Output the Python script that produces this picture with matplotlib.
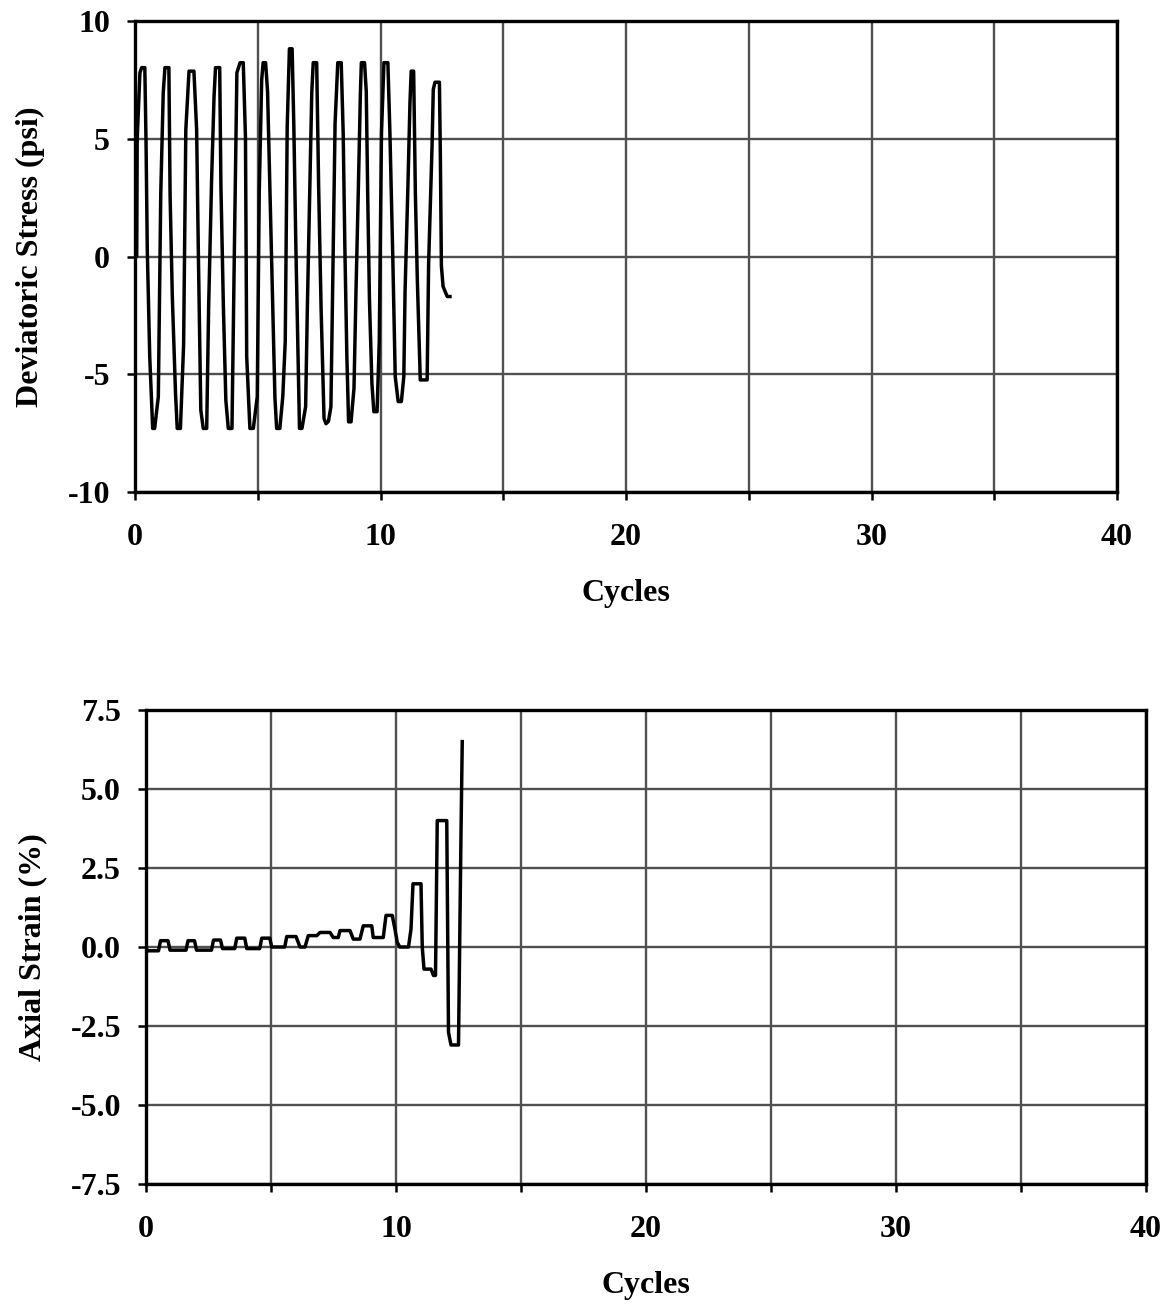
import matplotlib
matplotlib.use("Agg")
import matplotlib.pyplot as plt

# ---------------- data ----------------
stress_t = [0.0, 0.07, 0.09, 0.2, 0.27, 0.4, 0.45, 0.5, 0.6, 0.72, 0.8,
            0.95, 1.05, 1.15, 1.22, 1.38, 1.43, 1.52, 1.65, 1.72, 1.85,
            1.98, 2.07, 2.2, 2.4, 2.51, 2.58, 2.68, 2.78, 2.92,
            3.0, 3.12, 3.22, 3.28, 3.45, 3.5, 3.6, 3.7, 3.8, 3.95,
            4.05, 4.15, 4.28, 4.41, 4.5, 4.55, 4.68, 4.82,
            4.98, 5.06, 5.16, 5.22, 5.32, 5.4, 5.5, 5.6, 5.7, 5.77, 5.9,
            6.02, 6.12, 6.2, 6.29, 6.4, 6.47, 6.55, 6.7, 6.8,
            6.95, 7.02, 7.13, 7.2, 7.26, 7.4, 7.48, 7.58, 7.7, 7.78, 7.88,
            7.98, 8.08, 8.15, 8.26, 8.4, 8.48, 8.55, 8.63, 8.7, 8.8,
            8.92, 9.0, 9.1, 9.18, 9.22, 9.35, 9.42, 9.48, 9.55, 9.65, 9.73, 9.86,
            9.95, 10.04, 10.14, 10.3, 10.38, 10.5, 10.6, 10.72, 10.85,
            10.95, 11.0, 11.12, 11.2, 11.25, 11.35, 11.42, 11.5, 11.62, 11.9,
            11.96, 12.1, 12.15, 12.22, 12.4, 12.44, 12.48, 12.55, 12.72, 12.83]
stress_v = [0.0, 0.0, 5.0, 7.8, 8.02, 8.02, 4.8, 0.3, -4.25, -7.3, -7.3,
            -5.95, 2.7, 6.95, 8.02, 8.02, 2.56, -1.7, -5.8, -7.3, -7.3,
            -3.75, 5.39, 7.87, 7.87, 5.39, 0.2, -6.52, -7.3, -7.3,
            -2.12, 3.26, 6.8, 8.02, 8.02, 2.98, -2.12, -6.1, -7.3, -7.3,
            0.43, 7.8, 8.23, 8.23, 5.04, -4.25, -7.3, -7.3,
            -5.95, 2.7, 7.5, 8.23, 8.23, 7.0, 2.7, -1.7, -6.0, -7.3, -7.3,
            -5.95, -3.6, 5.53, 8.82, 8.82, 5.53, 0.57, -7.3, -7.3,
            -6.38, -2.2, 3.41, 6.95, 8.23, 8.23, 2.98, -2.2, -6.88, -7.1, -7.0,
            -6.38, 0.57, 5.67, 8.23, 8.23, 5.25, 0.28, -4.25, -7.02, -7.02,
            -5.6, -1.56, 2.98, 6.9, 8.23, 8.23, 7.0, 2.56, -1.84, -5.39, -6.59, -6.59,
            -3.6, 5.25, 8.23, 8.23, 5.39, 0.0, -5.1, -6.16, -6.16,
            -5.1, -1.5, 3.12, 6.52, 7.87, 7.87, 2.7, -0.99, -5.24, -5.24,
            -0.3, 4.7, 7.1, 7.4, 7.4, 4.1, -0.4, -1.28, -1.7, -1.7]

strain_t = [0.0, 0.05, 0.5, 0.58, 0.88, 0.96, 1.6, 1.68, 1.94, 2.02, 2.62, 2.7,
            2.98, 3.06, 3.55, 3.63, 3.95, 4.03, 4.55, 4.63, 4.95, 5.03, 5.55,
            5.63, 6.0, 6.16, 6.36, 6.49, 6.83, 6.96, 7.36, 7.49, 7.69, 7.76,
            8.16, 8.29, 8.56, 8.69, 9.03, 9.09, 9.49, 9.6, 9.85, 9.95, 10.05,
            10.15, 10.5, 10.6, 10.68, 11.0, 11.05, 11.12, 11.4, 11.5, 11.58,
            11.65, 12.03, 12.1, 12.2, 12.5, 12.6, 12.65]
strain_v = [0.0, -0.12, -0.12, 0.2, 0.2, -0.1, -0.1, 0.2, 0.2, -0.1, -0.1, 0.22,
            0.22, -0.05, -0.05, 0.28, 0.28, -0.05, -0.05, 0.28, 0.28, 0.0, 0.0,
            0.33, 0.33, 0.0, 0.0, 0.36, 0.36, 0.46, 0.46, 0.3, 0.3, 0.52,
            0.52, 0.25, 0.25, 0.67, 0.67, 0.3, 0.3, 1.0, 1.0, 0.6, 0.15,
            0.0, 0.0, 0.57, 2.0, 2.0, 0.0, -0.7, -0.7, -0.9, -0.9,
            4.0, 4.0, -2.7, -3.1, -3.1, 3.6, 6.5]

x_ticks = [0, 5, 10, 15, 20, 25, 30, 35, 40]
x_labels = ["0", "", "10", "", "20", "", "30", "", "40"]
stress_ticks = [-10, -5, 0, 5, 10]
stress_labels = ["-10", "-5", "0", "5", "10"]
strain_ticks = [-7.5, -5.0, -2.5, 0.0, 2.5, 5.0, 7.5]
strain_labels = ["-7.5", "-5.0", "-2.5", "0.0", "2.5", "5.0", "7.5"]

# ---------------- style ----------------
plt.rcParams['font.family'] = ['Liberation Serif', 'DejaVu Serif']
plt.rcParams['font.weight'] = 'bold'
FS = 23

fig = plt.figure(figsize=(11.74, 13.06), dpi=100)
W, H = 1174, 1306


def make_ax(l, r, t, b):
    return fig.add_axes([l / W, 1 - b / H, (r - l) / W, (b - t) / H])


ax1 = make_ax(135, 1117, 21, 492)
ax2 = make_ax(146, 1146, 710, 1184)


def style(ax, yticks, ylabels, ylim, ylabel, ylabelpad):
    ax.set_xlim(0, 40)
    ax.set_ylim(*ylim)
    ax.set_xticks(x_ticks)
    ax.set_xticklabels(x_labels)
    ax.set_yticks(yticks)
    ax.set_yticklabels(ylabels)
    ax.grid(True, color='#505050', linewidth=1.7)
    ax.set_axisbelow(True)
    for s in ax.spines.values():
        s.set_linewidth(2.4)
        s.set_color('black')
    ax.tick_params(axis='both', direction='out', length=6, width=1.8,
                   labelsize=FS, colors='black')
    ax.tick_params(axis='x', pad=16)
    ax.tick_params(axis='y', pad=12)
    for lab in ax.get_xticklabels() + ax.get_yticklabels():
        lab.set_fontweight('bold')
    ax.set_xlabel('Cycles', fontsize=FS, fontweight='bold', labelpad=20)
    ax.set_ylabel(ylabel, fontsize=FS, fontweight='bold', labelpad=ylabelpad)


ax1.plot(stress_t, stress_v, color='black', linewidth=2.5, zorder=3)
style(ax1, stress_ticks, stress_labels, (-10, 10), 'Deviatoric Stress (psi)', 16)

ax2.plot(strain_t, strain_v, color='black', linewidth=2.5, zorder=3)
style(ax2, strain_ticks, strain_labels, (-7.5, 7.5), 'Axial Strain (%)', 17)

fig.savefig('out.png', dpi=100)
